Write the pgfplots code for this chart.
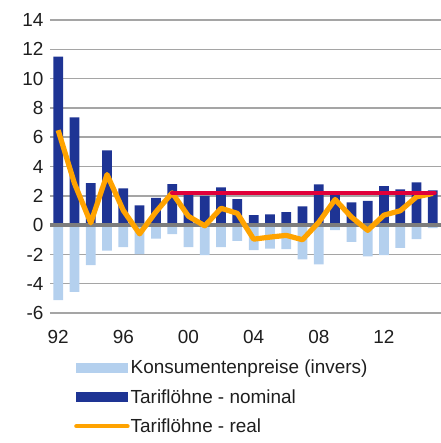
\documentclass[border=0pt]{standalone}
\usepackage{pgfplots}
\pgfplotsset{compat=1.18}
\usepackage{fontspec}
\setmainfont{Liberation Sans}

\definecolor{nomblue}{RGB}{30,52,148}
\definecolor{cpiblue}{RGB}{180,208,238}
\definecolor{realorange}{RGB}{255,163,0}
\definecolor{refred}{RGB}{224,0,58}
\definecolor{zerogray}{RGB}{125,125,125}
\definecolor{gridgray}{RGB}{165,165,165}
\definecolor{txt}{RGB}{30,30,30}

\begin{document}
\begin{tikzpicture}[font=\fontsize{19}{22}\selectfont, text=txt]
\useasboundingbox (-50bp,-130bp) rectangle (391bp,313bp);
\begin{axis}[
    scale only axis,
    width=391bp, height=293bp,
    xmin=1991.5, xmax=2015.5,
    ymin=-6, ymax=14,
    ytick={-6,-4,...,14},
    xtick={1992,1996,2000,2004,2008,2012},
    xticklabels={92,96,00,04,08,12},
    xticklabel style={yshift=-14bp},
    yticklabel style={xshift=-3bp},
    major tick length=0pt,
    axis line style={draw=none},
    ymajorgrids=true,
    grid style={gridgray, line width=1.5bp},
    /pgf/number format/assume math mode=true,
    clip=false,
    legend style={at={(24bp,-46bp)}, anchor=north west, draw=none, fill=none,
      legend cell align=left, row sep=12bp, inner sep=0pt,
      nodes={inner sep=1bp, font=\fontsize{19}{22}\selectfont, text=txt}},
  ]
  % Konsumentenpreise (invers)
  \addplot[ybar, bar width=0.6, bar shift=0pt, fill=cpiblue, draw=none,
    legend image code/.code={\fill[cpiblue] (0bp,-5bp) rectangle (52bp,5bp);}]
    coordinates {
    (1992,-5.12) (1993,-4.55) (1994,-2.73) (1995,-1.75) (1996,-1.5) (1997,-1.98)
    (1998,-0.93) (1999,-0.61) (2000,-1.5) (2001,-2.05) (2002,-1.5) (2003,-1.07)
    (2004,-1.7) (2005,-1.6) (2006,-1.64) (2007,-2.34) (2008,-2.68) (2009,-0.34)
    (2010,-1.14) (2011,-2.14) (2012,-2.05) (2013,-1.55) (2014,-0.96) (2015,-0.2)
  };
  % Tarifloehne nominal
  \addplot[ybar, bar width=0.6, bar shift=0pt, fill=nomblue, draw=none,
    legend image code/.code={\fill[nomblue] (0bp,-5bp) rectangle (52bp,5bp);}]
    coordinates {
    (1992,11.5) (1993,7.35) (1994,2.87) (1995,5.1) (1996,2.5) (1997,1.34)
    (1998,1.86) (1999,2.8) (2000,2.1) (2001,2.0) (2002,2.57) (2003,1.77)
    (2004,0.68) (2005,0.73) (2006,0.89) (2007,1.28) (2008,2.78) (2009,2.1)
    (2010,1.55) (2011,1.66) (2012,2.66) (2013,2.44) (2014,2.91) (2015,2.37)
  };
  % zero line
  \addplot[zerogray, line width=4.5bp, forget plot] coordinates {(1991.5,0) (2015.5,0)};
  % Tarifloehne real
  \addplot[realorange, line width=5.2bp, line join=round, mark=none,
    legend image code/.code={\draw[realorange, line width=4.5bp, line cap=round] (0bp,0bp) -- (51bp,0bp);}]
    coordinates {
    (1992,6.48) (1993,2.85) (1994,0.15) (1995,3.45) (1996,1.0) (1997,-0.6)
    (1998,0.9) (1999,2.2) (2000,0.6) (2001,-0.05) (2002,1.15) (2003,0.8)
    (2004,-0.96) (2005,-0.82) (2006,-0.7) (2007,-1.0) (2008,0.2) (2009,1.75)
    (2010,0.55) (2011,-0.36) (2012,0.68) (2013,0.98) (2014,1.93) (2015,2.16)
  };
  % Referenzlinie
  \addplot[refred, line width=4.5bp, line cap=round, forget plot] coordinates {(1999,2.2) (2015.1,2.2)};
  \legend{Konsumentenpreise (invers), Tariflöhne - nominal, Tariflöhne - real}
\end{axis}
\end{tikzpicture}
\end{document}
